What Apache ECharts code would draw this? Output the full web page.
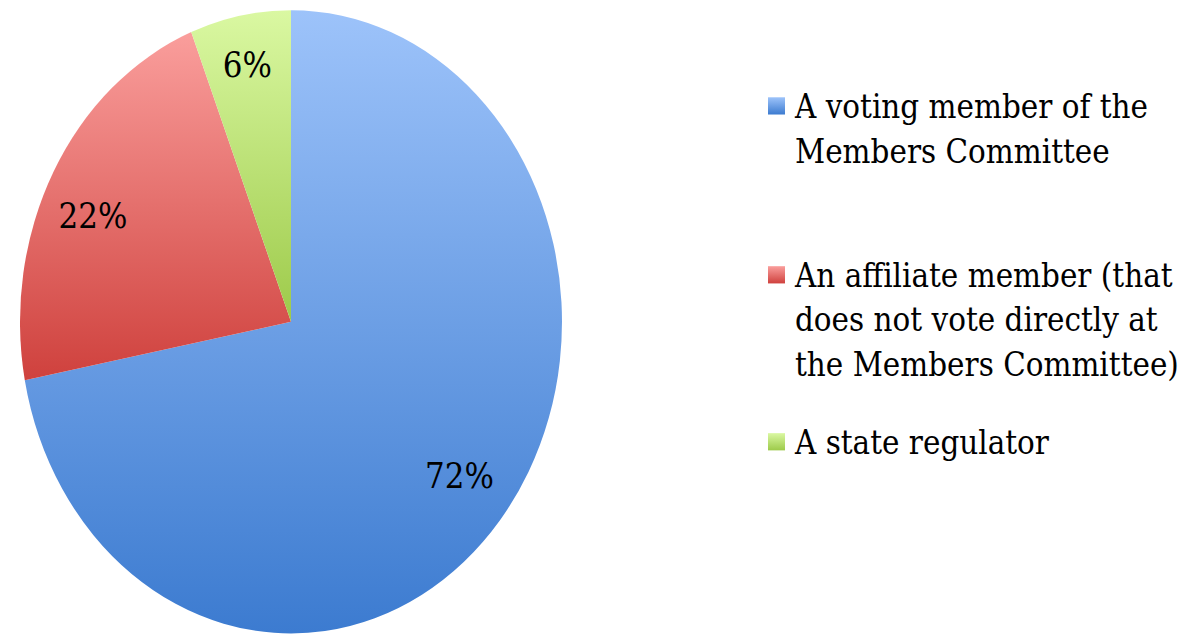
<!DOCTYPE html>
<html>
<head>
<meta charset="utf-8">
<script src="https://cdn.jsdelivr.net/npm/echarts@6/dist/echarts.min.js"></script>
<style>
html,body{margin:0;padding:0;background:#fff;overflow:hidden;width:1189px;height:637px;}
#wrap{width:1189px;height:637px;overflow:hidden;}
#chart{width:1189px;height:554px;transform:scaleY(1.1498);transform-origin:0 0;}
</style>
</head>
<body>
<div id="wrap"><div id="chart"></div></div>
<script>
// ---- data ----
const categories = [
  'A voting member of the Members Committee',
  'An affiliate member (that does not vote directly at the Members Committee)',
  'A state regulator'
];
const values = [72, 22, 6];
const legendLines = [
  ['A voting member of the', 'Members Committee'],
  ['An affiliate member (that', 'does not vote directly at', 'the Members Committee)'],
  ['A state regulator']
];
const topColors = ['#9DC3FA', '#FA9E9C', '#DAF8A2'];
const bottomColors = ['#3C7BD0', '#CF413D', '#9DCA4A'];

// ---- styling/layout ----
const FONT = 'DejaVu Serif';
const FS = 29.5;
const LH = 39.1;
const lineCenters = [92.1, 239.0, 384.2];
const CX = 291, CY = 279.9, R = 271;
// small nudges of the percentage labels: vertical shift (px, + = down), horizontal padding
const labelShiftY = [-8, 15, -5];
const labelPads = [[0, 6, 0, 0], [0, 6, 0, 0], [0, 4, 0, 0]];

const grad = (i) => ({
  type: 'linear', x: 0, y: 0, x2: 0, y2: 1,
  colorStops: [{offset: 0, color: topColors[i]}, {offset: 1, color: bottomColors[i]}]
});

const pieData = categories.map((name, i) => ({
  name, value: values[i], itemStyle: {color: grad(i)}
}));

const legends = categories.map((name, i) => {
  const n = legendLines[i].length;
  const text = new Array(n - 1).fill('').concat(legendLines[i]).join('\n');
  return {
    data: [name],
    orient: 'vertical',
    left: 768,
    top: lineCenters[i] - (n - 0.5) * LH,
    padding: 0,
    itemWidth: 17,
    itemHeight: 15,
    icon: 'rect',
    selectedMode: false,
    formatter: () => text,
    textStyle: {
      fontFamily: FONT, fontSize: FS, lineHeight: LH, color: '#000',
      padding: [0, 0, 0, 5]
    }
  };
});

const labelData = categories.map((name, i) => ({
  name, value: values[i],
  label: {
    padding: labelPads[i],
    rich: {
      v: {fontFamily: FONT, fontSize: 31, lineHeight: 36, color: '#000'},
      g: {fontSize: 1, lineHeight: Math.abs(labelShiftY[i]) * 2}
    }
  }
}));

const chart = echarts.init(document.getElementById('chart'), null, {renderer: 'svg'});
chart.setOption({
  backgroundColor: '#fff',
  animation: false,
  legend: legends,
  series: [
    {
      type: 'pie',
      center: [CX, CY],
      radius: [0, R],
      startAngle: 90,
      clockwise: true,
      silent: true,
      label: {show: false},
      labelLine: {show: false},
      itemStyle: {borderWidth: 0},
      data: pieData
    },
    {
      type: 'pie',
      center: [CX, CY],
      radius: [R * 0.62, R],
      startAngle: 90,
      clockwise: true,
      silent: true,
      itemStyle: {color: 'rgba(0,0,0,0)', borderWidth: 0},
      label: {
        show: true, position: 'inside',
        formatter: (p) => {
          const v = '{v|' + p.value + '%}';
          const s = labelShiftY[p.dataIndex];
          return s > 0 ? '{g|\u00a0}\n' + v : '' + v + '\n{g|\u00a0}';
        },
        fontFamily: FONT, fontSize: 31, color: '#000'
      },
      labelLine: {show: false},
      data: labelData
    }
  ]
});
</script>
</body>
</html>
